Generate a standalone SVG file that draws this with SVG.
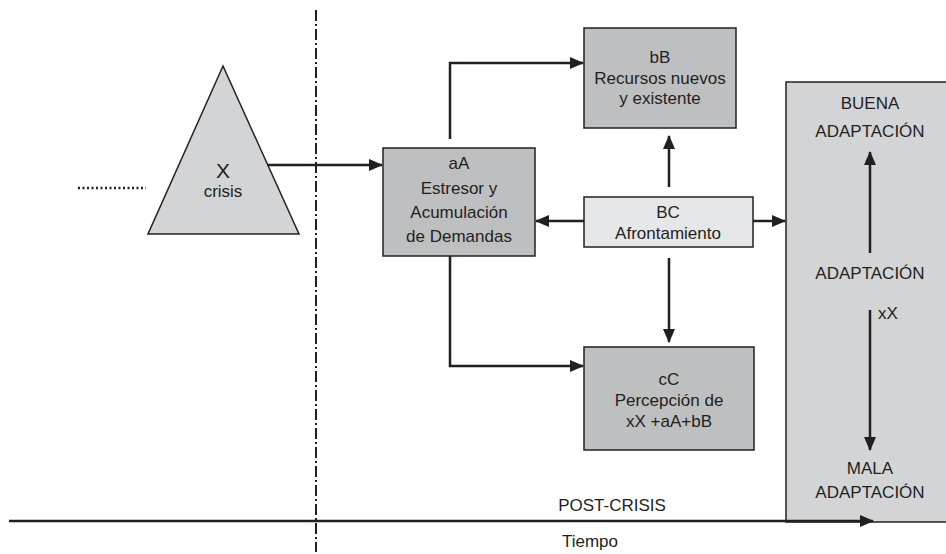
<svg xmlns="http://www.w3.org/2000/svg" width="946" height="554" viewBox="0 0 946 554">
<style>
text{font-family:"Liberation Sans",Arial,sans-serif;font-size:17px;fill:#231f20;text-anchor:middle}
.box{stroke:#231f20;stroke-width:1.5}
.dark{fill:#bebfc1}
.light{fill:#e6e7e8}
.tri{fill:#d3d4d6}
.con{fill:none;stroke:#231f20;stroke-width:2.5}
</style>
<defs>
<marker id="ah" viewBox="0 0 14 12" refX="13" refY="6" markerWidth="14" markerHeight="12" markerUnits="userSpaceOnUse" orient="auto">
<path d="M0,0 L14,6 L0,12 Z" fill="#231f20"/>
</marker>
</defs>
<g id="bigbox"><rect x="786" y="82" width="170" height="440" class="box tri"/>
<text x="870" y="109">BUENA</text><text x="870" y="137">ADAPTACIÓN</text>
<text x="870" y="279">ADAPTACIÓN</text>
<text x="878" y="319" style="text-anchor:start">xX</text>
<text x="870" y="474">MALA</text><text x="870" y="498">ADAPTACIÓN</text></g>
<g id="dashline"><line x1="316" y1="10" x2="316" y2="552" stroke="#231f20" stroke-width="2" stroke-dasharray="11,3,2,3"/></g>
<g id="dots"><line x1="78" y1="188" x2="146" y2="188" stroke="#231f20" stroke-width="2.5" stroke-dasharray="2,2.5"/></g>
<g id="crisis"><polygon points="223,66 299,234 148,234" class="box tri"/>
<text x="223" y="178" style="font-size:21px">X</text><text x="223" y="197">crisis</text></g>
<g id="aA"><rect x="383" y="148" width="152" height="108" class="box dark"/>
<text x="459" y="169">aA</text><text x="459" y="194">Estresor y</text><text x="459" y="218">Acumulación</text><text x="459" y="242">de Demandas</text></g>
<g id="bB"><rect x="584" y="28" width="152" height="100" class="box dark"/>
<text x="660" y="63">bB</text><text x="660" y="84">Recursos nuevos</text><text x="660" y="104">y existente</text></g>
<g id="BC"><rect x="584" y="197" width="169" height="50" class="box light"/>
<text x="668" y="218">BC</text><text x="668" y="239">Afrontamiento</text></g>
<g id="cC"><rect x="584" y="347" width="170" height="103" class="box dark"/>
<text x="669" y="385">cC</text><text x="669" y="406">Percepción de</text><text x="669" y="427">xX +aA+bB</text></g>
<g id="labels"><text x="612" y="511">POST-CRISIS</text><text x="590" y="547">Tiempo</text></g>
<g id="connectors">
<line x1="268" y1="165" x2="382" y2="165" class="con" marker-end="url(#ah)"/>
<polyline points="450,139 450,63 583,63" class="con" marker-end="url(#ah)"/>
<polyline points="450,256 450,366 583,366" class="con" marker-end="url(#ah)"/>
<line x1="669" y1="187" x2="669" y2="136" class="con" marker-end="url(#ah)"/>
<line x1="669" y1="258" x2="669" y2="342" class="con" marker-end="url(#ah)"/>
<line x1="584" y1="221" x2="536" y2="221" class="con" marker-end="url(#ah)"/>
<line x1="753" y1="221" x2="785" y2="221" class="con" marker-end="url(#ah)"/>
<line x1="870" y1="253" x2="870" y2="152" class="con" marker-end="url(#ah)"/>
<line x1="870" y1="310" x2="870" y2="450" class="con" marker-end="url(#ah)"/>
<line x1="9" y1="521" x2="873" y2="521" class="con" marker-end="url(#ah)"/>
</g>
</svg>
